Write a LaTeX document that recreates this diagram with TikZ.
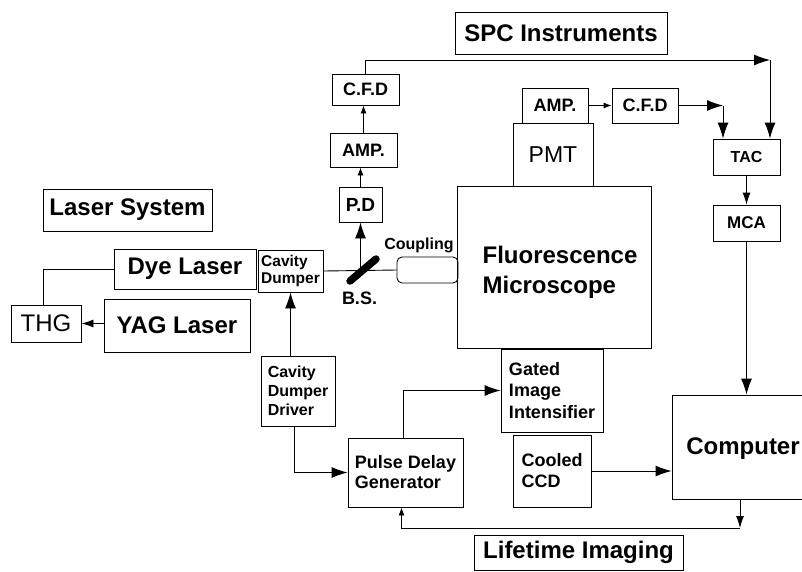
\documentclass[tikz,border=0pt]{standalone}
\usepackage{fontspec}
\setmainfont{Liberation Sans}
\usetikzlibrary{arrows.meta,calc}
\begin{document}
\begin{tikzpicture}[x=1pt,y=-1pt,
  box/.style={draw, line width=0.9pt, inner sep=0pt, align=left},
  conn/.style={line width=0.9pt},
  arr/.style={conn, -{Latex[length=16pt,width=11pt]}},
  marr/.style={conn, -{Latex[length=12pt,width=8pt]}},
  sarr/.style={conn, -{Latex[length=8pt,width=6pt]}},
  fbig/.style={font=\bfseries\fontsize{24}{28}\selectfont},
  rbig/.style={font=\fontsize{24}{28}\selectfont},
  fmid/.style={font=\bfseries\fontsize{18}{21}\selectfont},
  fsmall/.style={font=\bfseries\fontsize{16}{19}\selectfont},
  bsline/.style={line width=7.5pt, line cap=round}
]
\useasboundingbox (0,0) rectangle (802,571);
\clip (0,0) rectangle (802,571);

% nodes
\node[box,fbig,minimum width=169pt,minimum height=42pt] (lasersys) at (127.5,210) {Laser System};
\node[box,fbig,minimum width=142pt,minimum height=40pt] (dye) at (185,269) {Dye Laser};
\node[box,font=\bfseries\fontsize{15.5}{17}\selectfont,minimum width=65pt,minimum height=42pt] (cd) at (290.5,271) {Cavity\\Dumper};
\node[box,rbig,minimum width=70pt,minimum height=37pt] (thg) at (46,323.5) {THG};
\node[box,fbig,minimum width=146pt,minimum height=53pt] (yag) at (177,325.5) {YAG Laser};
\node[box,font=\bfseries\fontsize{19}{22}\selectfont,minimum width=43pt,minimum height=35pt] (pd) at (360.5,204.5) {P.D};
\node[box,fmid,minimum width=67pt,minimum height=34pt] (ampL) at (363.5,150) {AMP.};
\node[box,fmid,minimum width=67pt,minimum height=31pt] (cfdL) at (365.5,89.5) {C.F.D};
\node[box,fbig,minimum width=212pt,minimum height=42pt] (spc) at (561,33) {SPC Instruments};
\node[box,fmid,minimum width=66pt,minimum height=35pt] (ampR) at (555,105.5) {AMP.};
\node[box,fmid,minimum width=66pt,minimum height=35pt] (cfdR) at (645,105.5) {C.F.D};
\node[box,font=\fontsize{23}{27}\selectfont,minimum width=80pt,minimum height=63pt] (pmt) at (553,154.5) {PMT};
\node[box,fsmall,minimum width=67pt,minimum height=36pt] (tac) at (746.5,157) {TAC};
\node[box,font=\bfseries\fontsize{17}{20}\selectfont,minimum width=67pt,minimum height=36pt] (mca) at (746.5,223) {MCA};
\node[box,minimum width=194pt,minimum height=162pt] (micro) at (554,267) {};
\node[font=\bfseries\fontsize{24}{30}\selectfont,align=left] (microtext) at (560,272) {Fluorescence\\Microscope};
\node[box,rounded corners=5pt,minimum width=61pt,minimum height=26pt] (coupling) at (427.5,270) {};
\node[fsmall] (couplinglbl) at (419,245) {Coupling};
\node[box,font=\bfseries\fontsize{18}{21.5}\selectfont,minimum width=102pt,minimum height=83pt] (gii) at (552,390.5) {Gated\\Image\\Intensifier};
\node[box,fsmall,minimum width=74pt,minimum height=70pt] (cdd) at (298,391) {Cavity\\Dumper\\Driver};
\node[box,font=\bfseries\fontsize{18}{20}\selectfont,minimum width=115pt,minimum height=69pt] (pdg) at (405.5,472.5) {Pulse Delay\\Generator};
\node[box,fmid,minimum width=78pt,minimum height=72pt] (ccd) at (552,471) {Cooled\\CCD};
\node[box,minimum width=150pt,minimum height=104pt] (comp) at (747,447) {};
\node[fbig] (comptext) at (743,449) {Computer};
\node[box,fbig,minimum width=209pt,minimum height=35pt] (life) at (578.5,552.5) {Lifetime Imaging};
\node[fmid] (bslbl) at (359.5,298) {B.S.};

% coordinates
\coordinate (bs1) at (350,281);
\coordinate (bs2) at (376,259);
\coordinate (bsc) at (pd.south |- cd.east);
\coordinate (c1) at (770,60);
\coordinate (c2) at (723,105.5);
\coordinate (c3) at (740,528);

% connectors
\draw[conn] (dye.west) -| ($(thg.north)+(-3,0)$);
\draw[marr] (yag.west |- thg.east) -- (thg.east);
\draw[conn] (cd.east) -- (coupling.west);
\draw[bsline] (bs1) -- (bs2);
\draw[arr] (bsc) -- (pd.south);
\draw[sarr] (pd.north) -- (pd.north |- ampL.south);
\draw[sarr] (ampL.north) -- (ampL.north |- cfdL.south);
\draw[arr] (cfdL.north) |- (c1);
\draw[arr] (c1) -- (c1 |- tac.north);
\draw[sarr] (ampR.east) -- (cfdR.west);
\draw[arr] (cfdR.east) -- (c2);
\draw[arr] (c2) -- (c2 |- tac.north);
\draw[marr] (tac.south) -- (mca.north);
\draw[arr] (mca.south) -- (mca.south |- comp.north);
\draw[arr] (ccd.east) -- (ccd.east -| comp.west);
\draw[marr] (c3 |- comp.south) -- (c3);
\draw[sarr] (c3) -| ($(pdg.south)+(-4,0)$);
\draw[arr] (cd.south |- cdd.north) -- (cd.south);
\draw[arr] ($(cdd.south)+(-4,0)$) |- (pdg.west);
\draw[arr] ($(pdg.north)+(-2.5,0)$) |- (gii.west);
\end{tikzpicture}
\end{document}
